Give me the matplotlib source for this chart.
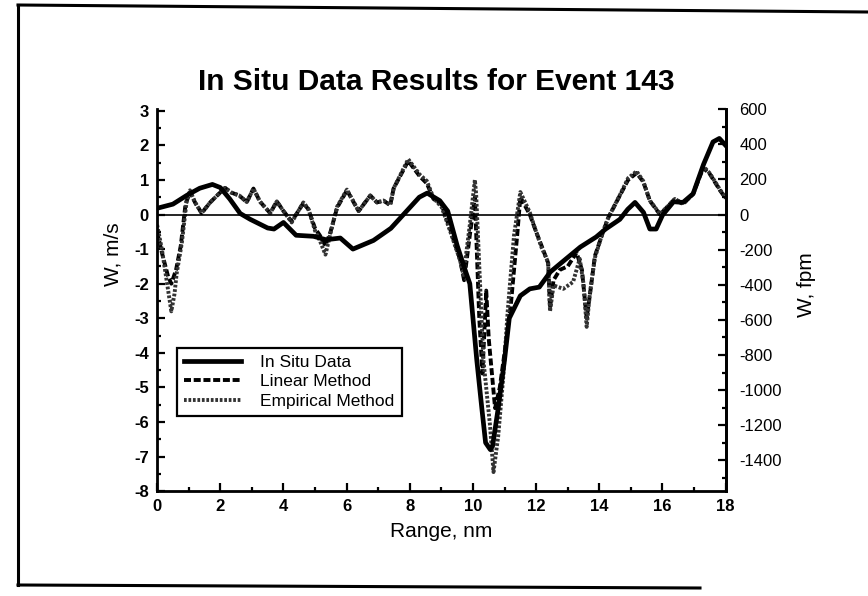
import matplotlib
matplotlib.use("Agg")
import matplotlib.pyplot as plt
from matplotlib.lines import Line2D
from matplotlib.ticker import MultipleLocator

plt.rcParams['font.family'] = ['Liberation Sans', 'DejaVu Sans']
plt.rcParams['axes.unicode_minus'] = False

# In Situ Data (m/s)
situ_x = [0.0, 0.5, 0.95, 1.35, 1.75, 2.0, 2.3, 2.63, 2.95, 3.5, 3.7, 4.0, 4.4, 4.95,
          5.35, 5.8, 6.2, 6.85, 7.4, 7.8, 8.3, 8.55, 8.95, 9.2, 9.5, 9.75, 9.9, 10.0,
          10.12, 10.28, 10.4, 10.55, 10.62, 10.8, 11.0, 11.15, 11.5, 11.8, 12.1, 12.45,
          12.95, 13.4, 13.9, 14.2, 14.65, 14.9, 15.13, 15.4, 15.6, 15.8, 16.0, 16.35,
          16.65, 16.97, 17.3, 17.6, 17.8, 18.0]
situ_y = [0.18, 0.3, 0.56, 0.76, 0.87, 0.78, 0.45, 0.03, -0.14, -0.39, -0.42, -0.23, -0.6, -0.63,
          -0.73, -0.68, -1.0, -0.75, -0.4, 0.0, 0.5, 0.62, 0.4, 0.1, -0.9, -1.6, -2.0, -3.0,
          -4.2, -5.6, -6.6, -6.8, -6.7, -5.6, -4.2, -3.0, -2.35, -2.15, -2.1, -1.66,
          -1.28, -0.94, -0.65, -0.42, -0.14, 0.15, 0.35, 0.06, -0.42, -0.42, -0.02, 0.37,
          0.35, 0.6, 1.45, 2.1, 2.2, 2.0]

# Linear Method (m/s)
lin_x = [0.0, 0.15, 0.35, 0.45, 0.6, 0.75, 0.9, 1.04, 1.2, 1.41, 1.68, 1.99, 2.15, 2.36, 2.6,
         2.84, 3.05, 3.26, 3.58, 3.79, 4.0, 4.26, 4.63, 4.79, 5.0, 5.15, 5.33, 5.49, 5.7,
         6.01, 6.38, 6.75, 6.96, 7.17, 7.38, 7.49, 7.95, 8.32, 8.54, 8.75, 9.0, 9.27, 9.59,
         9.72, 9.9, 10.06, 10.2, 10.3, 10.42, 10.5, 10.7, 10.85, 11.0, 11.2, 11.4, 11.5,
         11.8, 12.0, 12.17, 12.38, 12.44, 12.55, 12.75, 13.0, 13.28, 13.45, 13.6, 13.72,
         13.86, 14.12, 14.28, 14.65, 14.91, 15.18, 15.39, 15.6, 15.92, 16.13, 16.39, 16.65,
         16.97, 17.29, 17.5, 17.82, 18.0]
lin_y = [-0.5, -1.1, -1.8, -2.0, -1.6, -0.9, 0.3, 0.65, 0.35, 0.04, 0.35, 0.63, 0.77, 0.63, 0.55,
         0.36, 0.75, 0.37, 0.04, 0.38, 0.1, -0.2, 0.33, 0.15, -0.4, -0.6, -0.9, -0.5, 0.2,
         0.7, 0.1, 0.55, 0.35, 0.4, 0.27, 0.76, 1.55, 1.1, 0.9, 0.45, 0.3, -0.4, -1.3,
         -1.9, -0.6, 0.5, -3.0, -4.6, -2.2, -3.6, -5.6, -5.0, -4.0, -2.6, -0.6, 0.5,
         0.0, -0.5, -0.9, -1.4, -2.7, -1.9, -1.6, -1.5, -1.1, -1.6, -3.0, -2.2,
         -1.2, -0.5, -0.1, 0.55, 1.0, 1.2, 0.95, 0.4, 0.0, 0.2, 0.45, 0.3,
         0.6, 1.35, 1.17, 0.7, 0.47]

# Empirical Method (m/s)
emp_x = [0.0, 0.15, 0.3, 0.45, 0.55, 0.62, 0.78, 0.94, 1.04, 1.2, 1.41, 1.68, 1.99, 2.15, 2.36,
         2.6, 2.84, 3.05, 3.26, 3.58, 3.79, 4.0, 4.26, 4.63, 4.79, 5.0, 5.15, 5.33, 5.49, 5.7,
         6.01, 6.38, 6.75, 6.96, 7.17, 7.38, 7.49, 7.95, 8.32, 8.54, 8.75, 9.01, 9.27, 9.59,
         9.7, 9.9, 10.06, 10.1, 10.2, 10.33, 10.54, 10.65, 10.8, 10.95, 11.1, 11.3, 11.5,
         11.8, 11.97, 12.17, 12.38, 12.44, 12.55, 12.86, 13.17, 13.38, 13.5, 13.6, 13.7,
         13.86, 14.12, 14.28, 14.65, 14.91, 15.18, 15.39, 15.6, 15.92, 16.13, 16.39, 16.65,
         16.97, 17.29, 17.5, 17.82, 18.0]
emp_y = [-0.3, -1.0, -1.9, -2.8, -2.3, -1.7, -0.84, 0.42, 0.7, 0.35, 0.04, 0.35, 0.63, 0.77, 0.63,
         0.55, 0.36, 0.75, 0.37, 0.04, 0.38, 0.1, -0.23, 0.35, 0.16, -0.47, -0.75, -1.16, -0.54, 0.23,
         0.72, 0.1, 0.55, 0.35, 0.4, 0.27, 0.76, 1.6, 1.15, 0.97, 0.48, 0.21, -0.46, -1.32,
         -1.75, -0.3, 1.0, 0.6, -1.5, -4.2, -6.1, -7.45, -6.4, -4.8, -2.8, -0.6, 0.65,
         0.06, -0.42, -0.95, -1.38, -2.8, -2.05, -2.15, -1.95, -1.28, -2.0, -3.25, -2.3,
         -1.25, -0.48, -0.1, 0.56, 1.05, 1.25, 0.97, 0.4, 0.02, 0.2, 0.45, 0.31,
         0.6, 1.4, 1.19, 0.72, 0.49]

FPM = 196.85

fig = plt.figure(figsize=(8.68, 5.96), dpi=100)
ax = fig.add_axes([0.181, 0.176, 0.655, 0.641])

ax.plot(lin_x, lin_y, color='black', lw=2.8, ls=(0, (1.8, 0.7)), label='Linear Method')
ax.plot(emp_x, emp_y, color='0.2', lw=2.8, ls=(0, (0.7, 0.45)), label='Empirical Method')
ax.plot(situ_x, situ_y, color='black', lw=3.4, label='In Situ Data', solid_joinstyle='round')
ax.axhline(0, color='black', lw=1.2)

ax.set_xlim(0, 18)
ax.set_ylim(-8, 3.05)
ax.xaxis.set_major_locator(MultipleLocator(2))
ax.xaxis.set_minor_locator(MultipleLocator(1))
ax.yaxis.set_major_locator(MultipleLocator(1))
ax.yaxis.set_minor_locator(MultipleLocator(0.5))
ax.spines['top'].set_visible(False)
for s in ['left', 'bottom', 'right']:
    ax.spines[s].set_linewidth(2)
ax.tick_params(which='both', direction='in', width=1.6)
ax.tick_params(which='major', length=6, labelsize=12, pad=6)
ax.tick_params(which='minor', length=3)
for t in ax.get_xticklabels() + ax.get_yticklabels():
    t.set_fontweight('bold')

ax2 = ax.twinx()
ax2.set_ylim(-8 * FPM, 3.05 * FPM)
ax2.yaxis.set_major_locator(MultipleLocator(200))
ax2.yaxis.set_minor_locator(MultipleLocator(100))
ax2.spines['top'].set_visible(False)
ax2.spines['right'].set_linewidth(2)
ax2.tick_params(which='both', direction='in', width=1.6)
ax2.tick_params(which='major', length=6, labelsize=12, pad=10)
ax2.tick_params(which='minor', length=3)

ax.set_ylabel('W, m/s', fontsize=15)
ax.yaxis.set_label_coords(-0.06, 0.62)
ax2.set_ylabel('W, fpm', fontsize=15)
ax2.yaxis.set_label_coords(1.125, 0.54)
ax.set_xlabel('Range, nm', fontsize=15)
ax.xaxis.set_label_coords(0.5, -0.08)

handles, labels = ax.get_legend_handles_labels()
order = [2, 0, 1]
leg = ax.legend([handles[i] for i in order], [labels[i] for i in order],
                loc='upper left', bbox_to_anchor=(0.035, 0.375), fontsize=12.5,
                frameon=True, fancybox=False, edgecolor='black', framealpha=1,
                handlelength=3.3, labelspacing=0.25, borderaxespad=0, handletextpad=1.1)
leg.get_frame().set_linewidth(1.6)

fig.text(0.503, 0.862, 'In Situ Data Results for Event 143', ha='center', va='center',
         fontsize=21.5, fontweight='bold')

# outer frame of the page
fig.add_artist(Line2D([18 / 868, 18 / 868], [1 - 5 / 596, 1 - 585 / 596], color='black', lw=2.2))
fig.add_artist(Line2D([18 / 868, 1.0], [1 - 5 / 596, 1 - 12 / 596], color='black', lw=2.2))
fig.add_artist(Line2D([18 / 868, 700 / 868], [1 - 585 / 596, 1 - 588 / 596], color='black', lw=2.2))

fig.savefig('out.png', dpi=100)
